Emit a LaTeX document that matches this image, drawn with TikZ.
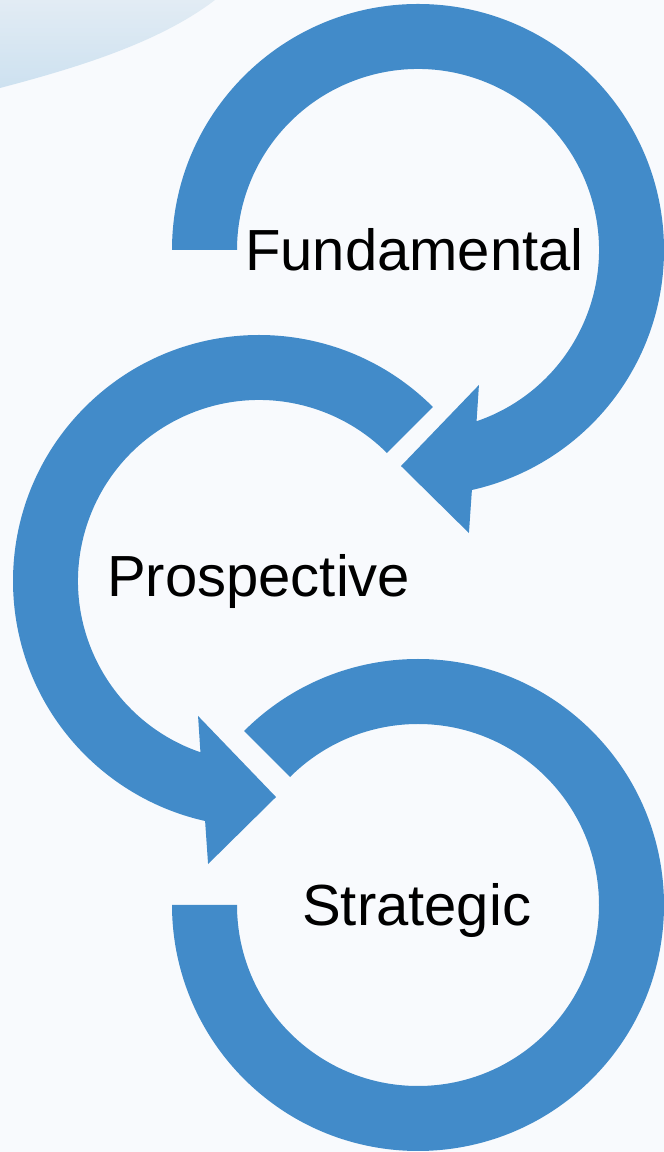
\documentclass[tikz,border=0pt]{standalone}
\usepackage{fontspec}
\setmainfont{Liberation Sans}
\definecolor{ringblue}{RGB}{66,139,201}
\definecolor{bgc}{RGB}{248,250,253}
\definecolor{swirltop}{RGB}{226,236,244}
\definecolor{swirlbot}{RGB}{205,225,240}
\begin{document}
\begin{tikzpicture}[x=1pt,y=1pt,
  ring/.style={fill=ringblue, draw=none},
  lbl/.style={anchor=base west, inner sep=0pt, font=\fontsize{58}{60}\selectfont, text=black}]
\useasboundingbox (0,0) rectangle (664,1152);
\fill[bgc] (0,0) rectangle (664,1152);
% background swirl (top left)
\shade[top color=swirltop, bottom color=swirlbot]
  (0,1152) -- (0,1064) .. controls (80,1085) and (160,1110) .. (215,1152) -- cycle;
% ring 1: Fundamental
\begin{scope}[shift={(418,902)}]
  \fill[ring] (180:246) arc[start angle=180, end angle=-77.34, radius=246]
    -- (-79.8:287.6) -- (-94.5:216.7) -- (-65.7:148.1) -- (-71.12:181)
    arc[start angle=-71.12, end angle=180, radius=181] -- cycle;
\end{scope}
% ring 2: Prospective
\begin{scope}[shift={(259,571)}]
  \fill[ring] (45:246) arc[start angle=45, end angle=257.34, radius=246]
    -- (259.8:287.6) -- (274.5:216.7) -- (245.7:148.1) -- (251.12:181)
    arc[start angle=251.12, end angle=45, radius=181] -- cycle;
\end{scope}
% ring 3: Strategic
\begin{scope}[shift={(418,247)}]
  \fill[ring] (135:246) arc[start angle=135, end angle=-180, radius=246]
    -- (180:181) arc[start angle=-180, end angle=135, radius=181] -- cycle;
\end{scope}
\node[lbl] (fund) at (245,881) {Fundamental};
\node[lbl] (prosp) at (107,555) {Prospective};
\node[lbl] (strat) at (302,226) {Strategic};
\end{tikzpicture}
\end{document}
